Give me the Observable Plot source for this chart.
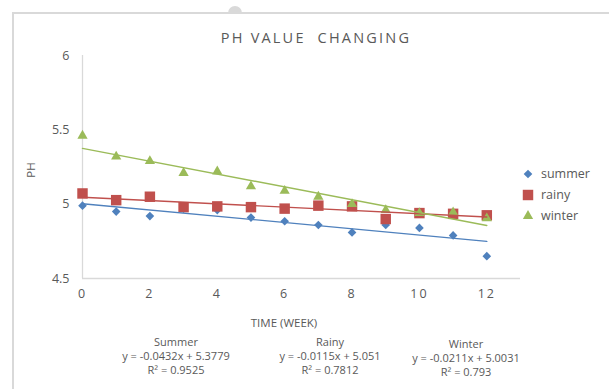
<!DOCTYPE html>
<html>
<head>
<meta charset="utf-8">
<script src="https://cdn.jsdelivr.net/npm/d3@7"></script>
<script src="https://cdn.jsdelivr.net/npm/@observablehq/plot@0.6"></script>
<style>
  html, body { margin: 0; padding: 0; background: #fff; }
  #wrap { position: relative; width: 609px; height: 389px; overflow: hidden;
          font-family: "Open Sans", Lato, sans-serif; color: #595959; }
  #wrap .abs { position: absolute; white-space: pre; }
  #frame { position: absolute; left: 12px; top: 12px; width: 610px; height: 400px;
           border-left: 2px solid #d9d9d9; border-top: 2px solid #d9d9d9; box-sizing: border-box; }
  #bump { position: absolute; left: 228px; top: 6px; width: 14px; height: 7px;
          background: #d9d9d9; border-radius: 7px 7px 0 0; }
  #chart { position: absolute; left: 0; top: 0; }
  #chart g[aria-label="x-axis tick label"] text { letter-spacing: 2px; }
  .title { font-size: 14.5px; letter-spacing: 2.2px; }
  .eq { font-size: 11px; text-align: center; line-height: 14px; }
  .leg { font-size: 12.5px; display: flex; align-items: center; height: 21px; }
  .leg svg { margin-right: 6px; overflow: visible; }
</style>
</head>
<body>
<div id="wrap">
  <div id="frame"></div>
  <div id="bump"></div>
  <div id="chart"></div>
</div>
<script>
// Weekly pH readings for three seasons
const weeks  = [0, 1, 2, 3, 4, 5, 6, 7, 8, 9, 10, 11, 12];
const summer = [4.99, 4.95, 4.92, 4.97, 4.96, 4.91, 4.885, 4.86, 4.81, 4.86, 4.84, 4.79, 4.65];
const rainy  = [5.072, 5.027, 5.05, 4.98, 4.985, 4.98, 4.97, 4.99, 4.985, 4.90, 4.94, 4.935, 4.925];
const winter = [5.46, 5.32, 5.29, 5.21, 5.22, 5.12, 5.09, 5.05, 5.00, 4.96, 4.94, 4.945, 4.905];

const seriesNames = ["summer", "rainy", "winter"];
const seriesColors = ["#4F81BD", "#C0504D", "#9BBB59"];
const seriesSymbols = ["diamond2", "square", "triangle"];
const seriesRadius = [3.9, 5.9, 3.8];

const xTicks = [0, 2, 4, 6, 8, 10, 12];
const yTicks = [4.5, 5, 5.5, 6];

// Trendline annotations shown under the chart
const fitHeads = ["Summer", "Rainy", "Winter"];
const fitEquations = ["y = -0.0432x + 5.3779", "y = -0.0115x + 5.051", "y = -0.0211x + 5.0031"];
const fitR2 = ["R² = 0.9525", "R² = 0.7812", "R² = 0.793"];

const valuesBySeries = [summer, rainy, winter];
const rows = seriesNames.flatMap((s, i) =>
  weeks.map((w, j) => ({series: s, week: w, ph: valuesBySeries[i][j]})));

const marks = [
  Plot.ruleX([0], {stroke: "#d9d9d9", strokeWidth: 1.3}),
  Plot.ruleY([4.5], {stroke: "#d9d9d9", strokeWidth: 1.3})
];
seriesNames.forEach((s, i) => {
  marks.push(Plot.dot(rows.filter(d => d.series === s), {
    x: "week", y: "ph", symbol: () => seriesSymbols[i], r: seriesRadius[i],
    fill: seriesColors[i], stroke: "none"
  }));
});
seriesNames.forEach((s, i) => {
  marks.push(Plot.linearRegressionY(rows.filter(d => d.series === s), {
    x: "week", y: "ph", stroke: seriesColors[i], strokeWidth: 1.4, ci: 0
  }));
});

const chart = Plot.plot({
  width: 609,
  height: 389,
  marginLeft: 82,
  marginRight: 89,
  marginTop: 55,
  marginBottom: 111,
  style: {background: "transparent", color: "#595959", fontFamily: "'Open Sans', Lato, sans-serif", fontSize: "12.5px"},
  x: {domain: [0, 13], ticks: xTicks, tickSize: 0, tickPadding: 11, label: null},
  y: {domain: [4.5, 6], ticks: yTicks, tickSize: 0, tickPadding: 13, label: null, tickFormat: d => String(d)},
  symbol: {type: "identity"},
  marks
});
document.getElementById("chart").appendChild(chart);

const wrap = document.getElementById("wrap");
function addText(text, cls, css) {
  const el = document.createElement("div");
  el.className = "abs " + cls;
  el.textContent = text;
  Object.assign(el.style, css);
  wrap.appendChild(el);
  return el;
}

// Title and axis titles
addText("PH VALUE  CHANGING", "title", {left: "316px", top: "28px", transform: "translateX(-50%)"});
addText("TIME (WEEK)", "", {left: "284px", top: "315px", transform: "translateX(-50%)", fontSize: "11.5px"});
addText("PH", "", {left: "30px", top: "170px", transform: "translate(-50%, -50%) rotate(-90deg)", fontSize: "11.5px"});

// Trendline equations
const eqCenters = [176, 330, 466];
const eqTops = [335, 335, 337];
fitHeads.forEach((h, i) => {
  addText(h + "\n" + fitEquations[i] + "\n" + fitR2[i], "eq",
    {left: eqCenters[i] + "px", top: eqTops[i] + "px", transform: "translateX(-50%)"});
});

// Legend swatches use the same d3 symbol types as the dots
const symbolTypes = {diamond2: d3.symbolDiamond2, square: d3.symbolSquare, triangle: d3.symbolTriangle};
const legend = document.createElement("div");
legend.className = "abs";
Object.assign(legend.style, {left: "521px", top: "163px"});
seriesNames.forEach((s, i) => {
  const row = document.createElement("div");
  row.className = "leg";
  const sym = d3.symbol(symbolTypes[seriesSymbols[i]], Math.PI * seriesRadius[i] * seriesRadius[i]);
  const svg = d3.create("svg").attr("width", 14).attr("height", 14);
  svg.append("path").attr("transform", "translate(7,7)").attr("d", sym()).attr("fill", seriesColors[i]);
  row.appendChild(svg.node());
  const label = document.createElement("span");
  label.textContent = s;
  row.appendChild(label);
  legend.appendChild(row);
});
wrap.appendChild(legend);
</script>
</body>
</html>
